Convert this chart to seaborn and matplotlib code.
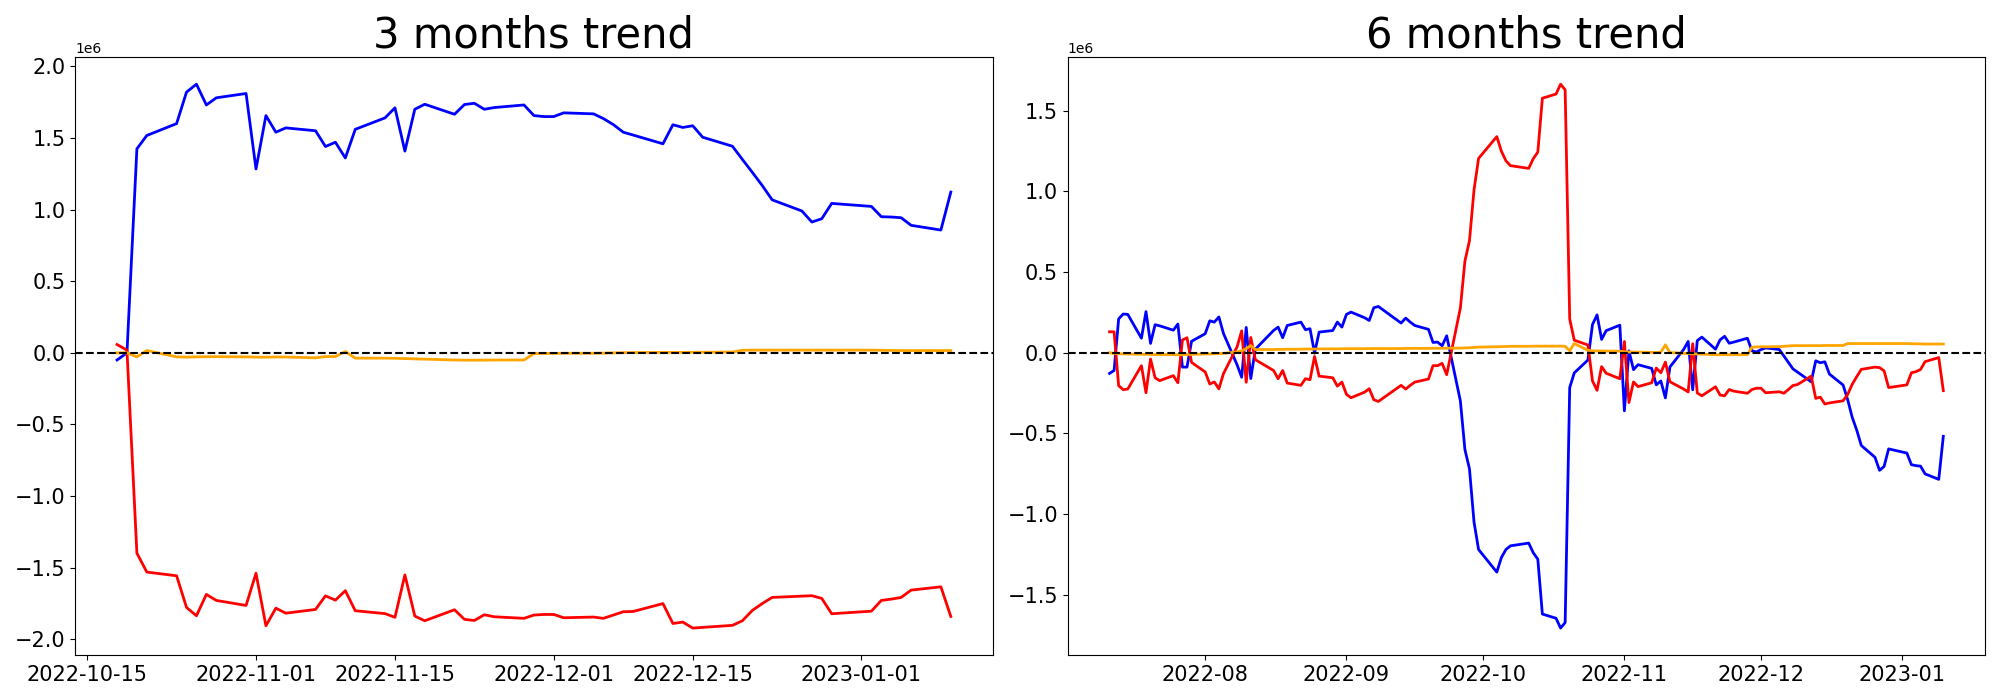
import pandas as pd
import matplotlib
matplotlib.use("Agg")
import matplotlib.pyplot as plt
import seaborn as sns

# ---------------------------------------------------------------
# 1) Data (values in units of 1e6, trading days of the KRX calendar)
# ---------------------------------------------------------------
UNIT = 1e6
krx_holidays = ['2022-08-15', '2022-09-09', '2022-09-12', '2022-10-03',
                '2022-10-10', '2022-12-30']

dates_3m = pd.bdate_range('2022-10-18', '2023-01-10', freq='C', holidays=krx_holidays)
dates_6m = pd.bdate_range('2022-07-11', '2023-01-10', freq='C', holidays=krx_holidays)

blue_3m = [
    -0.05, 0.0, 1.424, 1.517,
    1.60, 1.82, 1.875, 1.73, 1.78,
    1.81, 1.283, 1.656, 1.54, 1.57,
    1.55, 1.44, 1.47, 1.36, 1.56,
    1.64, 1.71, 1.408, 1.70, 1.735,
    1.665, 1.733, 1.742, 1.70, 1.712,
    1.73, 1.656, 1.649, 1.649, 1.675,
    1.668, 1.635, 1.593, 1.54, 1.52,
    1.459, 1.592, 1.573, 1.585, 1.505,
    1.442, 1.35, 1.26, 1.168, 1.068,
    0.99, 0.913, 0.936, 1.043,
    1.022, 0.95, 0.948, 0.943, 0.89,
    0.857, 1.122,
]
red_3m = [
    0.058, 0.019, -1.398, -1.53,
    -1.556, -1.777, -1.835, -1.686, -1.728,
    -1.763, -1.538, -1.905, -1.782, -1.817,
    -1.791, -1.696, -1.726, -1.66, -1.80,
    -1.82, -1.846, -1.55, -1.837, -1.870,
    -1.793, -1.86, -1.868, -1.828, -1.842,
    -1.853, -1.83, -1.826, -1.826, -1.849,
    -1.844, -1.853, -1.83, -1.807, -1.805,
    -1.75, -1.889, -1.879, -1.921, -1.916,
    -1.902, -1.870, -1.798, -1.75, -1.707,
    -1.698, -1.695, -1.714, -1.821,
    -1.803, -1.728, -1.719, -1.707, -1.656,
    -1.633, -1.84,
]
orange_3m = [
    0.0, 0.0, -0.028, 0.016,
    -0.028, -0.030, -0.028, -0.027, -0.027,
    -0.028, -0.030, -0.030, -0.029, -0.029,
    -0.035, -0.026, -0.026, 0.009, -0.037,
    -0.037, -0.038, -0.040, -0.042, -0.044,
    -0.050, -0.051, -0.051, -0.051, -0.050,
    -0.050, -0.005, -0.004, -0.004, -0.003,
    -0.003, -0.002, 0.0, 0.001, 0.002,
    0.003, 0.003, 0.003, 0.004, 0.004,
    0.006, 0.018, 0.019, 0.019, 0.019,
    0.019, 0.019, 0.019, 0.019,
    0.019, 0.018, 0.017, 0.016, 0.016,
    0.016, 0.016,
]

blue_6m = [
    -0.128, -0.11, 0.21, 0.24, 0.238,
    0.09, 0.255, 0.058, 0.174, 0.167,
    0.14, 0.178, -0.089, -0.089, 0.071,
    0.118, 0.198, 0.19, 0.222, 0.12,
    -0.075, -0.152, 0.157, -0.16, 0.022,
    0.138, 0.159, 0.093, 0.169,
    0.19, 0.143, 0.149, -0.002, 0.128,
    0.138, 0.19, 0.159, 0.238, 0.252,
    0.217, 0.20, 0.279, 0.287,
    0.184, 0.215, 0.19, 0.169,
    0.145, 0.064, 0.066, 0.043, 0.105,
    -0.298, -0.60, -0.72, -1.05, -1.22,
    -1.36, -1.27, -1.22, -1.197,
    -1.18, -1.24, -1.28, -1.62,
    -1.646, -1.707, -1.673, -0.216, -0.125,
    -0.045, 0.175, 0.235, 0.083, 0.137,
    0.171, -0.36, 0.012, -0.105, -0.074,
    -0.097, -0.199, -0.175, -0.28, -0.088,
    0.02, 0.07, -0.23, 0.075, 0.097,
    0.022, 0.08, 0.102, 0.059, 0.066,
    0.09, 0.012, 0.005, 0.02, 0.03,
    0.02, -0.02, -0.06, -0.10, -0.12,
    -0.18, -0.05, -0.062, -0.056, -0.132,
    -0.20, -0.29, -0.40, -0.48, -0.575,
    -0.648, -0.729, -0.705, -0.596,
    -0.622, -0.694, -0.70, -0.703, -0.751,
    -0.785, -0.518,
]
red_6m = [
    0.13, 0.13, -0.204, -0.229, -0.225,
    -0.08, -0.248, -0.039, -0.155, -0.173,
    -0.142, -0.186, 0.079, 0.093, -0.06,
    -0.119, -0.194, -0.181, -0.224, -0.13,
    0.037, 0.136, -0.183, 0.095, -0.043,
    -0.11, -0.161, -0.11, -0.188,
    -0.202, -0.161, -0.167, -0.023, -0.145,
    -0.155, -0.207, -0.182, -0.258, -0.279,
    -0.244, -0.223, -0.291, -0.302,
    -0.202, -0.225, -0.202, -0.182,
    -0.163, -0.08, -0.08, -0.066, -0.136,
    0.277, 0.568, 0.695, 1.01, 1.205,
    1.34, 1.25, 1.19, 1.16,
    1.143, 1.203, 1.244, 1.578,
    1.604, 1.665, 1.63, 0.209, 0.078,
    0.048, -0.175, -0.233, -0.086, -0.127,
    -0.161, 0.07, -0.309, -0.181, -0.21,
    -0.186, -0.095, -0.124, -0.058, -0.18,
    -0.225, -0.243, 0.056, -0.249, -0.267,
    -0.211, -0.262, -0.267, -0.228, -0.238,
    -0.251, -0.228, -0.22, -0.22, -0.248,
    -0.242, -0.251, -0.228, -0.203, -0.197,
    -0.145, -0.283, -0.275, -0.318, -0.311,
    -0.298, -0.259, -0.196, -0.148, -0.103,
    -0.089, -0.092, -0.112, -0.216,
    -0.199, -0.124, -0.117, -0.104, -0.055,
    -0.03, -0.235,
]
orange_6m = [
    0.0, -0.004, -0.006, -0.007, -0.008,
    -0.009, -0.010, -0.010, -0.011, -0.011,
    -0.012, -0.012, -0.012, -0.011, -0.010,
    -0.008, -0.007, -0.006, -0.005, -0.004,
    0.005, 0.012, 0.025, 0.045, 0.02,
    0.02, 0.021, 0.021, 0.022,
    0.022, 0.023, 0.023, 0.023, 0.024,
    0.024, 0.024, 0.025, 0.025, 0.025,
    0.025, 0.026, 0.026, 0.026,
    0.026, 0.027, 0.027, 0.027,
    0.027, 0.028, 0.028, 0.028, 0.028,
    0.029, 0.030, 0.031, 0.033, 0.035,
    0.037, 0.038, 0.039, 0.04,
    0.04, 0.041, 0.041, 0.041,
    0.041, 0.041, 0.040, 0.012, 0.057,
    0.015, 0.012, 0.011, 0.011, 0.01,
    0.01, 0.006, 0.005, 0.005, 0.004,
    0.002, 0.002, 0.003, 0.049, 0.001,
    -0.003, -0.005, -0.007, -0.008, -0.009,
    -0.012, -0.012, -0.012, -0.012, -0.012,
    -0.012, 0.034, 0.036, 0.037, 0.037,
    0.038, 0.040, 0.042, 0.044, 0.044,
    0.044, 0.044, 0.044, 0.045, 0.045,
    0.045, 0.057, 0.057, 0.057, 0.057,
    0.057, 0.057, 0.057, 0.057,
    0.057, 0.056, 0.055, 0.055, 0.054,
    0.054, 0.054,
]

panels = [
    ("3 months trend", dates_3m, blue_3m, red_3m, orange_3m),
    ("6 months trend", dates_6m, blue_6m, red_6m, orange_6m),
]

# ---------------------------------------------------------------
# 2) Plotting
# ---------------------------------------------------------------
fig, axes = plt.subplots(1, 2, figsize=(20, 7), dpi=100)

for ax, (title, dates, blue, red, orange) in zip(axes, panels):
    df = pd.DataFrame({
        'date': dates,
        'blue': [v * UNIT for v in blue],
        'red': [v * UNIT for v in red],
        'orange': [v * UNIT for v in orange],
    })
    for col in ['blue', 'red', 'orange']:
        sns.lineplot(data=df, x='date', y=col, ax=ax, color=col, linewidth=2)
    ax.axhline(0, color='black', linestyle='--', linewidth=1.5)
    ax.set_title(title, fontsize=30)
    ax.set_xlabel('')
    ax.set_ylabel('')
    ax.tick_params(labelsize=15)

fig.tight_layout()
fig.savefig('out.png')
